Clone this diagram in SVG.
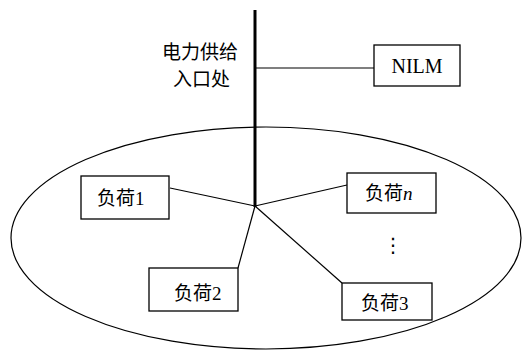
<svg xmlns="http://www.w3.org/2000/svg" width="529" height="351" viewBox="0 0 529 351">
<style>
.box{fill:#fff;stroke:#000;stroke-width:1.3}
.ln{stroke:#000;stroke-width:1.2;fill:none}
.t{font-family:"Liberation Serif","Noto Sans CJK SC",serif;font-size:19px;fill:#000}
</style>
<rect width="529" height="351" fill="#fff"/>
<ellipse id="area" cx="266" cy="238" rx="255" ry="111" class="ln"/>
<g id="connectors">
<line x1="255" y1="10" x2="255" y2="207" stroke="#000" stroke-width="3"/>
<line x1="255" y1="68" x2="374" y2="68" class="ln"/>
<line x1="170" y1="188" x2="255" y2="206" class="ln"/>
<line x1="238" y1="268" x2="255" y2="206" class="ln"/>
<line x1="347" y1="185" x2="255" y2="206" class="ln"/>
<line x1="342" y1="283" x2="255" y2="206" class="ln"/>
</g>
<g id="entry">
<text class="t" x="162" y="59">电力供给</text>
<text class="t" x="173" y="86">入口处</text>
</g>
<g id="nilm">
<rect class="box" x="374" y="45" width="86" height="41"/>
<text class="t" x="417" y="73" text-anchor="middle" style="font-size:20px">NILM</text>
</g>
<g id="load1">
<rect class="box" x="81" y="176" width="88" height="43"/>
<text class="t" x="97" y="205">负荷1</text>
</g>
<g id="load2">
<rect class="box" x="149" y="268" width="89" height="43"/>
<text class="t" x="174" y="300">负荷2</text>
</g>
<g id="loadn">
<rect class="box" x="347" y="173" width="89" height="40"/>
<text class="t" x="365" y="200">负荷<tspan font-style="italic">n</tspan></text>
</g>
<g id="load3">
<rect class="box" x="342" y="283" width="90" height="37"/>
<text class="t" x="361" y="310">负荷3</text>
</g>
<g id="dots">
<text x="393" y="252" text-anchor="middle" style="font-family:'DejaVu Sans',sans-serif;font-size:20px">⋮</text>
</g>
</svg>
